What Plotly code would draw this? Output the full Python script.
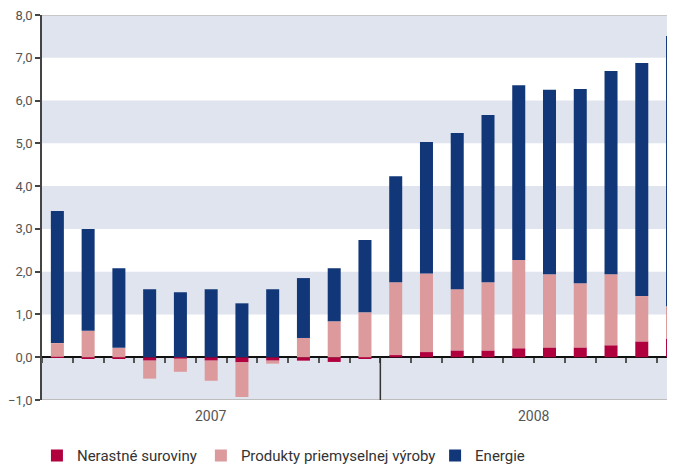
import plotly.graph_objects as go

months = ["02/2007", "03/2007", "04/2007", "05/2007", "06/2007", "07/2007",
          "08/2007", "09/2007", "10/2007", "11/2007", "12/2007",
          "01/2008", "02/2008", "03/2008", "04/2008", "05/2008", "06/2008",
          "07/2008", "08/2008", "09/2008", "10/2008"]
years = ["2007", "2008"]

nerastne = [0.01, -0.03, -0.04, -0.08, -0.03, -0.08, -0.12, -0.08, -0.08, -0.11, -0.03,
            0.05, 0.12, 0.16, 0.16, 0.21, 0.23, 0.23, 0.28, 0.37, 0.44]
produkty = [0.32, 0.62, 0.22, -0.42, -0.31, -0.47, -0.81, -0.07, 0.45, 0.84, 1.05,
            1.70, 1.84, 1.43, 1.59, 2.06, 1.71, 1.50, 1.66, 1.06, 0.75]
energie = [3.09, 2.38, 1.86, 1.59, 1.52, 1.59, 1.26, 1.59, 1.40, 1.24, 1.69,
           2.48, 3.07, 3.65, 3.91, 4.09, 4.31, 4.54, 4.75, 5.45, 6.32]

y_ticks = [-1, 0, 1, 2, 3, 4, 5, 6, 7, 8]

C_RED = "#b1003e"
C_PINK = "#dc9a9c"
C_NAVY = "#123778"
FONT = "Roboto, Arial"

fig = go.Figure()
fig.add_trace(go.Bar(x=months, y=nerastne, name="Nerastné suroviny",
                     marker=dict(color=C_RED, line=dict(width=0)), legend="legend"))
fig.add_trace(go.Bar(x=months, y=produkty, name="Produkty priemyselnej výroby",
                     marker=dict(color=C_PINK, line=dict(width=0)), legend="legend2"))
fig.add_trace(go.Bar(x=months, y=energie, name="Energie",
                     marker=dict(color=C_NAVY, line=dict(width=0)), legend="legend3"))

shapes = []
# alternating background bands
for lo in y_ticks[:-1]:
    if (lo - y_ticks[0]) % 2 == 0:
        shapes.append(dict(type="rect", xref="paper", yref="y", x0=0, x1=1,
                           y0=lo, y1=lo + 1, fillcolor="#dfe4ee",
                           line=dict(width=0), layer="below"))
# top & bottom borders
shapes.append(dict(type="line", xref="paper", yref="y", x0=0, x1=1,
                   y0=y_ticks[-1], y1=y_ticks[-1], line=dict(color="#c8c8c8", width=2)))
shapes.append(dict(type="line", xref="paper", yref="y", x0=0, x1=1,
                   y0=y_ticks[0], y1=y_ticks[0], line=dict(color="#bdbdbd", width=2)))
# year separator
n2007 = sum(1 for m in months if m.endswith(years[0]))
shapes.append(dict(type="line", xref="x", yref="y", x0=n2007 - 0.5, x1=n2007 - 0.5,
                   y0=y_ticks[0], y1=0, line=dict(color="#333333", width=1.5)))

annotations = []
idx2007 = [i for i, m in enumerate(months) if m.endswith(years[0])]
idx2008 = [i for i, m in enumerate(months) if m.endswith(years[1])]
for yr, idx in ((years[0], idx2007), (years[1], idx2008)):
    annotations.append(dict(x=(idx[0] + idx[-1]) / 2, y=-0.042, xref="x", yref="paper",
                            text=yr, showarrow=False, yanchor="middle",
                            font=dict(family=FONT, size=14, color="#555555")))

leg_common = dict(y=-0.145, xanchor="left", yanchor="middle", orientation="h",
                  font=dict(family=FONT, size=15, color="#333333"),
                  bgcolor="rgba(0,0,0,0)", borderwidth=0, visible=True)

# The page body has an 8px margin, so the figure is drawn 8px smaller
fig.update_layout(
    width=667, height=456,
    margin=dict(l=34, r=0, t=7, b=64, autoexpand=False),
    plot_bgcolor="white", paper_bgcolor="white",
    barmode="relative", bargap=0.577,
    separators=", ",
    showlegend=True,
    font=dict(family=FONT, color="#555555"),
    shapes=shapes, annotations=annotations,
    xaxis=dict(type="category", range=[-0.5, 20.08], anchor="free",
               position=1 / 9, showticklabels=False, showgrid=False,
               ticks="outside", tickson="boundaries", ticklen=5, tickwidth=1.5,
               tickcolor="#555555", showline=False, zeroline=False, automargin=False),
    yaxis=dict(range=[-1, 8], tickvals=y_ticks, tickformat=".1f", showgrid=False,
               showline=True, linecolor="#444444", linewidth=1.5,
               ticks="outside", ticklen=5, tickwidth=1.5, tickcolor="#444444",
               zeroline=True, zerolinecolor="#111111", zerolinewidth=1.5,
               automargin=False, ticklabeloverflow="allow",
               tickfont=dict(family=FONT, size=13, color="#555555")),
    legend=dict(x=-0.008, **leg_common),
    legend2=dict(x=0.251, **leg_common),
    legend3=dict(x=0.621, **leg_common),
)

fig.write_html("out.html")
